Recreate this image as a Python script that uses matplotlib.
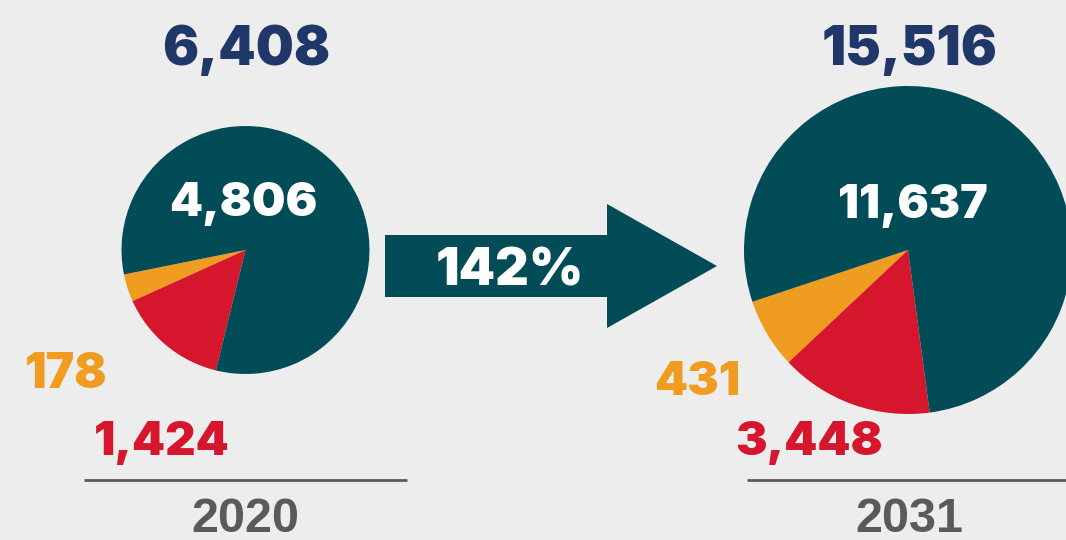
import matplotlib.pyplot as plt
from matplotlib.patches import Polygon

# values shown on the chart
years = ['2020', '2031']
totals = ['6,408', '15,516']
teal_vals = ['4,806', '11,637']
red_vals = ['1,424', '3,448']
orange_vals = ['178', '431']
growth = '142%'

# slice shares as drawn in the picture (orange, red, teal), in percent
shares_2020 = [3.6, 14.4, 82.0]
shares_2031 = [6.9, 15.1, 78.0]
start_2020 = 191.4
start_2031 = 198.4

bg = '#ededed'
teal = '#024c57'
red = '#d5162d'
orange = '#ef9c21'
navy = '#20376a'
grey = '#5a5a5a'

W, H = 1066, 540
fig = plt.figure(figsize=(W / 100, H / 100), dpi=100, facecolor=bg)
ax = fig.add_axes([0, 0, 1, 1])
ax.set_facecolor(bg)


def Y(y):
    # pixel row -> data y (axis not inverted so pie angles stay counterclockwise)
    return H - y


ax.pie(shares_2020, colors=[orange, red, teal], startangle=start_2020, counterclock=True,
       center=(245.5, Y(250)), radius=124, wedgeprops=dict(linewidth=0))
ax.pie(shares_2031, colors=[orange, red, teal], startangle=start_2031, counterclock=True,
       center=(908, Y(250)), radius=164, wedgeprops=dict(linewidth=0))

# big arrow
arrow = [(385, 235), (607, 235), (607, 204), (717, 266), (607, 328), (607, 297), (385, 297)]
ax.add_patch(Polygon([(x, Y(y)) for x, y in arrow], closed=True, facecolor=teal, edgecolor='none'))

heavy = dict(family=['Inter', 'Lato', 'DejaVu Sans'], weight='black')
ax.text(510, Y(285), growth, color='white', fontsize=37.5, ha='center', va='baseline', **heavy)

# totals on top
ax.text(246, Y(65), totals[0], color=navy, fontsize=38.5, ha='center', va='baseline', **heavy)
ax.text(910, Y(65), totals[1], color=navy, fontsize=38.5, ha='center', va='baseline', **heavy)

# teal values inside pies
ax.text(243, Y(216), teal_vals[0], color='white', fontsize=34, ha='center', va='baseline', **heavy)
ax.text(913, Y(218), teal_vals[1], color='white', fontsize=33.5, ha='center', va='baseline', **heavy)

# orange / red labels
ax.text(66, Y(388), orange_vals[0], color=orange, fontsize=34.5, ha='center', va='baseline', **heavy)
ax.text(162, Y(455), red_vals[0], color=red, fontsize=34, ha='center', va='baseline', **heavy)
ax.text(697, Y(395), orange_vals[1], color=orange, fontsize=34, ha='center', va='baseline', **heavy)
ax.text(809, Y(455), red_vals[1], color=red, fontsize=34, ha='center', va='baseline', **heavy)

# base lines and years
ax.plot([84, 407], [Y(480), Y(480)], color=grey, lw=2, solid_capstyle='butt')
ax.plot([747, 1066], [Y(480), Y(480)], color=grey, lw=2, solid_capstyle='butt')
yr = dict(family=['Liberation Sans', 'DejaVu Sans'], weight='bold', color=grey, fontsize=35,
          ha='center', va='baseline')
ax.text(245, Y(532), years[0], **yr)
ax.text(909, Y(532), years[1], **yr)

ax.set_xlim(0, W)
ax.set_ylim(0, H)
ax.set_aspect('auto')
ax.axis('off')

fig.savefig('out.png', dpi=100, facecolor=bg)
